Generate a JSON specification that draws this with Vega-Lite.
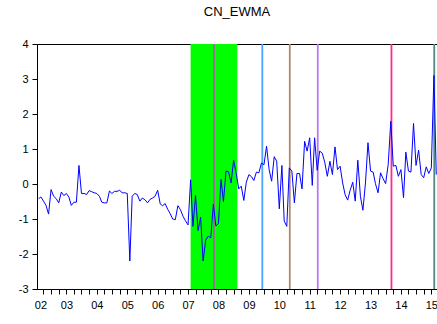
{
  "$schema": "https://vega.github.io/schema/vega-lite/v6.json",
  "width": 400,
  "height": 245,
  "autosize": "none",
  "padding": {"left": 37, "top": 44, "right": 0, "bottom": 35},
  "background": "white",
  "config": {
    "font": "Liberation Sans",
    "view": {"stroke": "black", "strokeWidth": 1},
    "axisY": {
      "values": [-3, -2, -1, 0, 1, 2, 3, 4],
      "labelExpr": "'' + datum.value",
      "labelOverlap": false,
      "labelFlush": false,
      "labelFontSize": 11,
      "labelColor": "black",
      "labelPadding": 4,
      "tickSize": 5,
      "tickColor": "black",
      "domainColor": "black",
      "grid": false,
      "title": null
    }
  },
  "title": {
    "text": "CN_EWMA",
    "fontSize": 13,
    "fontWeight": "normal",
    "color": "black",
    "anchor": "middle",
    "frame": "group",
    "offset": 9,
    "baseline": "alphabetic"
  },
  "datasets": {
    "series": [
      {"date": "2002-02-01", "v": -0.42}, {"date": "2002-03-01", "v": -0.37}, {"date": "2002-04-01", "v": -0.49},
      {"date": "2002-05-01", "v": -0.61}, {"date": "2002-06-01", "v": -0.86}, {"date": "2002-07-01", "v": -0.16},
      {"date": "2002-08-01", "v": -0.35}, {"date": "2002-09-01", "v": -0.42}, {"date": "2002-10-01", "v": -0.54},
      {"date": "2002-11-01", "v": -0.23}, {"date": "2002-12-01", "v": -0.33},
      {"date": "2003-01-01", "v": -0.27}, {"date": "2003-02-01", "v": -0.38}, {"date": "2003-03-01", "v": -0.61},
      {"date": "2003-04-01", "v": -0.52}, {"date": "2003-05-01", "v": -0.52}, {"date": "2003-06-01", "v": 0.53},
      {"date": "2003-07-01", "v": -0.27}, {"date": "2003-08-01", "v": -0.27}, {"date": "2003-09-01", "v": -0.30},
      {"date": "2003-10-01", "v": -0.19}, {"date": "2003-11-01", "v": -0.22}, {"date": "2003-12-01", "v": -0.25},
      {"date": "2004-01-01", "v": -0.27}, {"date": "2004-02-01", "v": -0.35}, {"date": "2004-03-01", "v": -0.52},
      {"date": "2004-04-01", "v": -0.54}, {"date": "2004-05-01", "v": -0.54}, {"date": "2004-06-01", "v": -0.20},
      {"date": "2004-07-01", "v": -0.27}, {"date": "2004-08-01", "v": -0.21}, {"date": "2004-09-01", "v": -0.21},
      {"date": "2004-10-01", "v": -0.18}, {"date": "2004-11-01", "v": -0.25}, {"date": "2004-12-01", "v": -0.25},
      {"date": "2005-01-01", "v": -0.27}, {"date": "2005-02-01", "v": -2.20}, {"date": "2005-03-01", "v": -0.35},
      {"date": "2005-04-01", "v": -0.27}, {"date": "2005-05-01", "v": -0.30}, {"date": "2005-06-01", "v": -0.49},
      {"date": "2005-07-01", "v": -0.40}, {"date": "2005-08-01", "v": -0.45}, {"date": "2005-09-01", "v": -0.54},
      {"date": "2005-10-01", "v": -0.44}, {"date": "2005-11-01", "v": -0.40}, {"date": "2005-12-01", "v": -0.35},
      {"date": "2006-01-01", "v": -0.18}, {"date": "2006-02-01", "v": -0.57}, {"date": "2006-03-01", "v": -0.62},
      {"date": "2006-04-01", "v": -0.56}, {"date": "2006-05-01", "v": -0.72}, {"date": "2006-06-01", "v": -0.85},
      {"date": "2006-07-01", "v": -1.00}, {"date": "2006-08-01", "v": -1.02}, {"date": "2006-09-01", "v": -0.62},
      {"date": "2006-10-01", "v": -0.73}, {"date": "2006-11-01", "v": -0.92}, {"date": "2006-12-01", "v": -1.05},
      {"date": "2007-01-01", "v": -1.17}, {"date": "2007-02-01", "v": 0.12}, {"date": "2007-03-01", "v": -1.21},
      {"date": "2007-04-01", "v": -0.33}, {"date": "2007-05-01", "v": -1.33}, {"date": "2007-06-01", "v": -0.95},
      {"date": "2007-07-01", "v": -2.20}, {"date": "2007-08-01", "v": -1.60}, {"date": "2007-09-01", "v": -1.49},
      {"date": "2007-10-01", "v": -1.54}, {"date": "2007-11-01", "v": -0.57}, {"date": "2007-12-01", "v": -1.20},
      {"date": "2008-01-01", "v": -1.13}, {"date": "2008-02-01", "v": 0.13}, {"date": "2008-03-01", "v": -0.50},
      {"date": "2008-04-01", "v": 0.37}, {"date": "2008-05-01", "v": 0.35}, {"date": "2008-06-01", "v": 0.03},
      {"date": "2008-07-01", "v": 0.68}, {"date": "2008-08-01", "v": 0.31}, {"date": "2008-09-01", "v": -0.14},
      {"date": "2008-10-01", "v": -0.06}, {"date": "2008-11-01", "v": -0.47}, {"date": "2008-12-01", "v": 0.05},
      {"date": "2009-01-01", "v": 0.27}, {"date": "2009-02-01", "v": 0.21}, {"date": "2009-03-01", "v": 0.10},
      {"date": "2009-04-01", "v": 0.34}, {"date": "2009-05-01", "v": 0.32}, {"date": "2009-06-01", "v": 0.60},
      {"date": "2009-07-01", "v": 0.55}, {"date": "2009-08-01", "v": 1.08}, {"date": "2009-09-01", "v": 0.41},
      {"date": "2009-10-01", "v": 0.08}, {"date": "2009-11-01", "v": 0.78}, {"date": "2009-12-01", "v": 0.65},
      {"date": "2010-01-01", "v": -0.71}, {"date": "2010-02-01", "v": 0.53}, {"date": "2010-03-01", "v": -1.06},
      {"date": "2010-04-01", "v": -1.21}, {"date": "2010-05-01", "v": 0.46}, {"date": "2010-06-01", "v": 0.37},
      {"date": "2010-07-01", "v": -0.54}, {"date": "2010-08-01", "v": 0.30}, {"date": "2010-09-01", "v": 0.30},
      {"date": "2010-10-01", "v": -0.14}, {"date": "2010-11-01", "v": 1.22}, {"date": "2010-12-01", "v": 0.94},
      {"date": "2011-01-01", "v": 1.32}, {"date": "2011-02-01", "v": -0.04}, {"date": "2011-03-01", "v": 1.32},
      {"date": "2011-04-01", "v": 0.39}, {"date": "2011-05-01", "v": 0.94}, {"date": "2011-06-01", "v": 0.88},
      {"date": "2011-07-01", "v": 0.62}, {"date": "2011-08-01", "v": 0.22}, {"date": "2011-09-01", "v": 0.65},
      {"date": "2011-10-01", "v": 0.27}, {"date": "2011-11-01", "v": 1.06}, {"date": "2011-12-01", "v": 0.41},
      {"date": "2012-01-01", "v": 0.51}, {"date": "2012-02-01", "v": 0.03}, {"date": "2012-03-01", "v": -0.30},
      {"date": "2012-04-01", "v": -0.46}, {"date": "2012-05-01", "v": -0.18}, {"date": "2012-06-01", "v": 0.05},
      {"date": "2012-07-01", "v": -0.49}, {"date": "2012-08-01", "v": 0.68}, {"date": "2012-09-01", "v": -0.35},
      {"date": "2012-10-01", "v": -0.75}, {"date": "2012-11-01", "v": 0.03}, {"date": "2012-12-01", "v": 1.18},
      {"date": "2013-01-01", "v": 0.37}, {"date": "2013-02-01", "v": 0.34}, {"date": "2013-03-01", "v": 0.01},
      {"date": "2013-04-01", "v": -0.25}, {"date": "2013-05-01", "v": 0.32}, {"date": "2013-06-01", "v": 0.15},
      {"date": "2013-07-01", "v": 0.01}, {"date": "2013-08-01", "v": 0.56}, {"date": "2013-09-01", "v": 1.79},
      {"date": "2013-10-01", "v": 0.51}, {"date": "2013-11-01", "v": 0.53}, {"date": "2013-12-01", "v": 0.22},
      {"date": "2014-01-01", "v": 0.41}, {"date": "2014-02-01", "v": -0.39}, {"date": "2014-03-01", "v": 0.91},
      {"date": "2014-04-01", "v": 0.37}, {"date": "2014-05-01", "v": 0.34}, {"date": "2014-06-01", "v": 1.73},
      {"date": "2014-07-01", "v": 0.53}, {"date": "2014-08-01", "v": 0.97}, {"date": "2014-09-01", "v": 0.27},
      {"date": "2014-10-01", "v": 0.18}, {"date": "2014-11-01", "v": 0.49}, {"date": "2014-12-01", "v": 0.30},
      {"date": "2015-01-01", "v": 0.46}, {"date": "2015-02-01", "v": 3.10}, {"date": "2015-03-01", "v": 0.27}
    ],
    "crisis": [{"start": "2007-02-01", "end": "2008-08-15"}],
    "events": [
      {"date": "2007-11-09", "event": "e1"},
      {"date": "2009-06-11", "event": "e2"},
      {"date": "2010-05-07", "event": "e3"},
      {"date": "2011-04-08", "event": "e4"},
      {"date": "2013-09-09", "event": "e5"},
      {"date": "2015-02-05", "event": "e6"}
    ]
  },
  "layer": [
    {
      "data": {"name": "crisis"},
      "mark": {"type": "rect", "color": "#00ff00"},
      "encoding": {
        "x": {
          "field": "start", "type": "temporal",
          "scale": {"type": "utc", "domain": [{"year": 2002, "month": 1, "date": 13, "utc": true}, {"year": 2015, "month": 3, "date": 10, "utc": true}]},
          "axis": {
            "tickCount": {"interval": "month", "step": 3},
            "labelExpr": "utcmonth(datum.value) == 0 ? utcFormat(datum.value, '%y') : ((utcyear(datum.value) == 2002 && utcmonth(datum.value) == 3) ? '02' : '')",
            "labelOffset": {"condition": {"test": "utcyear(datum.value) == 2002 && utcmonth(datum.value) == 3", "value": -3}, "value": 0},
            "labelOverlap": false,
            "labelFlush": false,
            "labelFontSize": 11,
            "labelColor": "black",
            "labelPadding": 5,
            "tickSize": 5,
            "tickColor": "black",
            "domainColor": "black",
            "grid": false,
            "title": null
          }
        },
        "x2": {"field": "end"}
      }
    },
    {
      "data": {"name": "events"},
      "mark": {"type": "rule", "strokeWidth": 1.8},
      "encoding": {
        "x": {"field": "date", "type": "temporal", "scale": {"type": "utc"}},
        "color": {
          "field": "event", "type": "nominal",
          "scale": {"domain": ["e1", "e2", "e3", "e4", "e5", "e6"], "range": ["#a0689c", "#4aa3ff", "#b0896a", "#b57cf2", "#ff2a8c", "#4e8a85"]},
          "legend": null
        }
      }
    },
    {
      "mark": {"type": "rule", "color": "#ff8000", "strokeWidth": 1.5},
      "encoding": {
        "y": {"datum": 1.08, "type": "quantitative", "scale": {"domain": [-3, 4], "nice": false, "zero": false}}
      }
    },
    {
      "data": {"name": "series"},
      "mark": {"type": "line", "color": "#0000ff", "strokeWidth": 1},
      "encoding": {
        "x": {"field": "date", "type": "temporal", "scale": {"type": "utc"}},
        "y": {"field": "v", "type": "quantitative", "scale": {"domain": [-3, 4], "nice": false, "zero": false}}
      }
    }
  ]
}
